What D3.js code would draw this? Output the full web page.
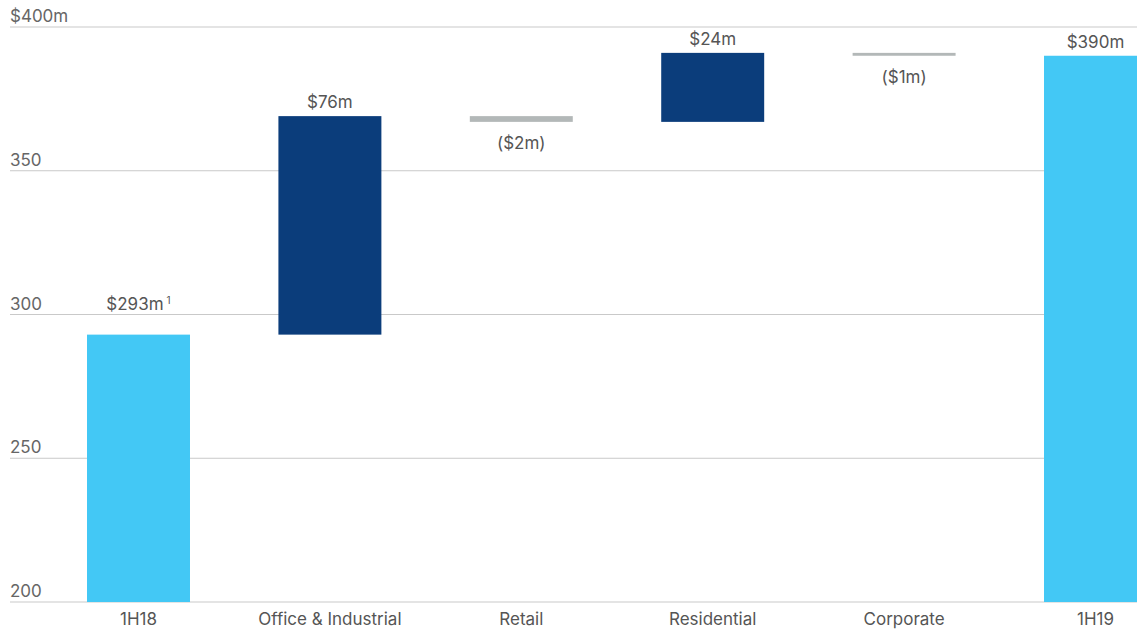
<!DOCTYPE html>
<html>
<head>
<meta charset="utf-8">
<script src="https://cdn.jsdelivr.net/npm/d3@7"></script>
<style>
  html, body { margin: 0; padding: 0; background: #fff; }
  svg { display: block; font-family: Inter, "Open Sans", sans-serif; }
</style>
</head>
<body>
<svg id="chart" width="1137" height="630"></svg>
<script>
// Operating earnings bridge, 1H18 to 1H19 ($m)
const categories = ["1H18", "Office & Industrial", "Retail", "Residential", "Corporate", "1H19"];
const changes = [293, 76, -2, 24, -1, 390];
const kinds = ["total", "delta", "delta", "delta", "delta", "total"];
const valueLabels = ["$293m", "$76m", "($2m)", "$24m", "($1m)", "$390m"];
const labelNotes = ["1", "", "", "", "", ""];
const yTicks = [200, 250, 300, 350, 400];
const yTickLabels = ["200", "250", "300", "350", "$400m"];

const colors = { total: "#43C8F5", up: "#0B3D7B", down: "#B3B8B8" };

// Build running start/end for each step of the bridge
let running = 0;
const rows = categories.map((c, i) => {
  let start, end;
  if (kinds[i] === "total") { start = 200; end = changes[i]; running = changes[i]; }
  else { start = running; end = running + changes[i]; running = end; }
  return { cat: c, value: changes[i], kind: kinds[i], start, end, label: valueLabels[i], note: labelNotes[i] };
});

const svg = d3.select("#chart");

const x = d3.scaleBand()
  .domain(categories)
  .range([42.8, 1191.2])
  .paddingInner(0.462)
  .paddingOuter(0.231);

const y = d3.scaleLinear().domain([200, 400]).range([602, 27]);

// Gridlines with labels sitting just above each line
const grid = svg.append("g");
grid.selectAll("line").data(yTicks).join("line")
  .attr("x1", 10).attr("x2", 1137)
  .attr("y1", d => y(d)).attr("y2", d => y(d))
  .attr("stroke", "#c9c9c9").attr("stroke-width", 1);
grid.selectAll("text").data(yTicks).join("text")
  .attr("x", 10).attr("y", d => y(d) - 5)
  .attr("fill", "#666").attr("font-size", 17)
  .text((d, i) => yTickLabels[i]);

// Bars
svg.append("g").selectAll("rect").data(rows).join("rect")
  .attr("x", d => x(d.cat))
  .attr("width", x.bandwidth())
  .attr("y", d => y(Math.max(d.start, d.end)))
  .attr("height", d => Math.abs(y(d.start) - y(d.end)))
  .attr("fill", d => d.kind === "total" ? colors.total : (d.value >= 0 ? colors.up : colors.down));

// Label baseline: above for increases/totals, below for decreases;
// a label that would sit on a gridline is lifted above that line.
function labelY(d) {
  if (d.value < 0) return y(Math.min(d.start, d.end)) + 27;
  let base = y(Math.max(d.start, d.end)) - 8;
  const hit = yTicks.map(y).find(g => g > base - 14 && g < base + 3);
  if (hit !== undefined) base = hit - 5;
  return base;
}

const vl = svg.append("g").selectAll("text").data(rows).join("text")
  .attr("x", d => x(d.cat) + x.bandwidth() / 2)
  .attr("y", labelY)
  .attr("text-anchor", "middle")
  .attr("fill", "#555").attr("font-size", 17);
vl.append("tspan").text(d => d.label);
vl.filter(d => d.note).append("tspan")
  .attr("dx", 3).attr("dy", -6).attr("font-size", 10)
  .text(d => d.note);

// Category axis labels
svg.append("g").selectAll("text").data(categories).join("text")
  .attr("x", d => x(d) + x.bandwidth() / 2)
  .attr("y", 625)
  .attr("text-anchor", "middle")
  .attr("fill", "#555").attr("font-size", 17)
  .text(d => d);
</script>
</body>
</html>
